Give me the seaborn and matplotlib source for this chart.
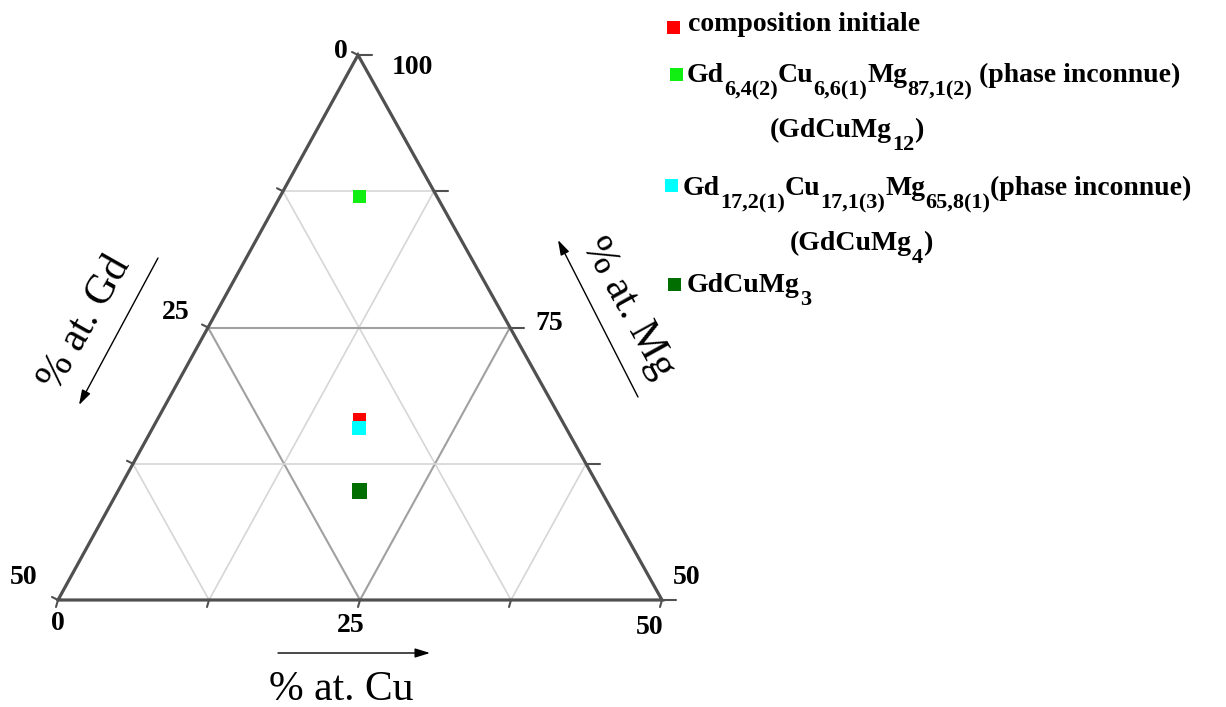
import matplotlib
matplotlib.use("Agg")
import matplotlib.pyplot as plt
import seaborn as sns
import pandas as pd
from matplotlib.patches import Rectangle

# compositions (% at.)
phases = ["composition initiale", "GdCuMg12", "GdCuMg4", "GdCuMg3"]
gd = [16.7, 6.4, 17.2, 20.0]
cu = [16.7, 6.6, 17.1, 20.0]
mg = [66.6, 87.1, 65.8, 60.0]
couleurs = ["#ff0000", "#11ee11", "#00ffff", "#006e00"]
tailles = [85, 90, 95, 120]

# graduations
niveaux = [12.5, 25, 37.5]
gd_ticks = [0, 25, 50]
mg_ticks = [100, 75, 50]
cu_ticks = [0, 25, 50]

# sommets du triangle (pixels) : Mg=100 en haut, Gd=50 a gauche, Cu=50 a droite
HAUT = (358, 55)
GAUCHE = (58, 600)
DROITE = (662, 600)


def tern(g, c, m):
    a, b, t = g / 50, c / 50, (m - 50) / 50
    s = a + b + t
    x = (a * GAUCHE[0] + b * DROITE[0] + t * HAUT[0]) / s
    y = (a * GAUCHE[1] + b * DROITE[1] + t * HAUT[1]) / s
    return x, y


sns.set_style("white")
plt.rcParams["font.family"] = ["Liberation Serif", "DejaVu Serif"]
plt.rcParams["text.color"] = "black"

fig = plt.figure(figsize=(12.26, 7.07), dpi=100)
ax = fig.add_axes([0, 0, 1, 1])

# -----------------------------
# grille
# -----------------------------
for v in niveaux:
    col = "#a0a0a0" if v == 25 else "#d6d6d6"
    lw = 1.5 if v == 25 else 1.2
    segs = [
        (tern(v, 0, 100 - v), tern(0, v, 100 - v)),      # Mg constant
        (tern(v, 0, 100 - v), tern(v, 50 - v, 50)),      # Gd constant
        (tern(0, v, 100 - v), tern(50 - v, v, 50)),      # Cu constant
    ]
    for p, q in segs:
        ax.plot([p[0], q[0]], [p[1], q[1]], color=col, lw=lw, zorder=1)

# bords
ax.plot([GAUCHE[0], HAUT[0], DROITE[0], GAUCHE[0]],
        [GAUCHE[1], HAUT[1], DROITE[1], GAUCHE[1]],
        color="#505050", lw=2.3, zorder=2, solid_joinstyle="miter")

# petites graduations
for v in [0, 12.5, 25, 37.5, 50]:
    x, y = tern(v, 0, 100 - v)
    ax.plot([x, x - 6], [y, y - 3], color="#505050", lw=1.5)
    x, y = tern(0, v, 100 - v)
    ax.plot([x, x + 14], [y, y], color="#505050", lw=1.5)
    x, y = tern(50 - v, v, 50)
    ax.plot([x, x - 2], [y, y + 7], color="#505050", lw=1.5)

# -----------------------------
# points
# -----------------------------
xy = [tern(g, c, m) for g, c, m in zip(gd, cu, mg)]
df = pd.DataFrame({"phase": phases,
                   "x": [p[0] for p in xy],
                   "y": [p[1] for p in xy]})
sns.scatterplot(data=df, x="x", y="y", hue="phase", size="phase",
                palette=dict(zip(phases, couleurs)),
                sizes=dict(zip(phases, tailles)),
                marker="s", linewidth=0, legend=False, ax=ax, zorder=5)
ax.set_xlim(0, 1226)
ax.set_ylim(707, 0)
ax.axis("off")

# -----------------------------
# etiquettes des graduations
# -----------------------------
lab = dict(fontsize=20, fontweight="bold", ha="center", va="center",
           color="black")
for v, (dx, dy) in zip(gd_ticks, [(-17, -3), (-32, -15), (-34, -22)]):
    x, y = tern(v, 0, 100 - v)
    ax.text(x + dx, y + dy, str(v), **lab)
for v, (dx, dy) in zip(mg_ticks, [(54, 12), (39, -4), (25, -22)]):
    x, y = tern(0, 100 - v, v)
    ax.text(x + dx, y + dy, str(v), **lab)
for v, (dx, dy) in zip(cu_ticks, [(0, 24), (-9, 25), (-12, 27)]):
    x, y = tern(50 - v, v, 50)
    ax.text(x + dx, y + dy, str(v), **lab)

# titres des axes
ax.text(85, 323, "% at. Gd", fontsize=30, rotation=60.5, color="black",
        ha="center", va="center", rotation_mode="anchor")
ax.text(628, 308, "% at. Mg", fontsize=30, rotation=-61, color="black",
        ha="center", va="center", rotation_mode="anchor")
ax.text(341, 700, "% at. Cu", fontsize=30, ha="center", va="baseline",
        color="black")

fleche = dict(arrowstyle="-|>,head_length=0.9,head_width=0.28",
              color="black", lw=1, shrinkA=0, shrinkB=0)
ax.annotate("", xy=(79, 405), xytext=(158, 258), arrowprops=fleche)
ax.annotate("", xy=(558, 240), xytext=(638, 397), arrowprops=fleche)
ax.annotate("", xy=(430, 653), xytext=(278, 653), arrowprops=fleche)

# -----------------------------
# legende
# -----------------------------
rend = fig.canvas.get_renderer()


def texte_riche(x, y, morceaux, taille=20, baisse=13):
    for s, sub in morceaux:
        t = ax.text(x, y + (baisse if sub else 0), s,
                    fontsize=taille * 0.8 if sub else taille,
                    fontweight="bold", ha="left", va="baseline",
                    color="black")
        x += t.get_window_extent(rend).width


lignes = [
    [(688, 31, [("composition initiale", 0)])],
    [(687, 82, [("Gd", 0), ("6,4(2)", 1), ("Cu", 0), ("6,6(1)", 1),
                ("Mg", 0), ("87,1(2)", 1), (" (phase inconnue)", 0)]),
     (770, 137, [("(GdCuMg", 0), ("12", 1), (")", 0)])],
    [(683, 195, [("Gd", 0), ("17,2(1)", 1), ("Cu", 0), ("17,1(3)", 1),
                 ("Mg", 0), ("65,8(1)", 1), ("(phase inconnue)", 0)]),
     (790, 250, [("(GdCuMg", 0), ("4", 1), (")", 0)])],
    [(687, 292, [("GdCuMg", 0), ("3", 1)])],
]
carres = [(673, 27), (676, 74), (671, 185), (674, 284)]

for col, (cx, cy), entree in zip(couleurs, carres, lignes):
    ax.add_patch(Rectangle((cx - 6.5, cy - 6.5), 13, 13, color=col, lw=0))
    for x, y, m in entree:
        texte_riche(x, y, m)

fig.savefig("out.png", dpi=100)
